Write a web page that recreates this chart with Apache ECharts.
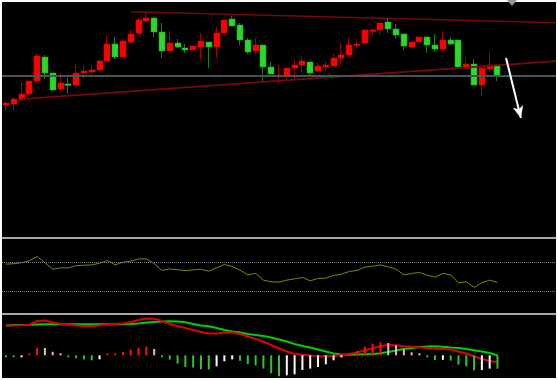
<!DOCTYPE html>
<html><head><meta charset="utf-8">
<script src="https://cdn.jsdelivr.net/npm/echarts@6/dist/echarts.min.js"></script>
<style>html,body{margin:0;padding:0;background:#fff;}#c{width:558px;height:380px;}</style>
</head><body><div id="c"></div>
<script>
// ---- price candles (arbitrary price units) ----
const opens  = [95,96,100,106,119,143,127,111,116,115,127,128,130,139,156,143,158,167,179,182,168,149,157,152,150,153,158,153,167,181,175,160,149,155,133,124,124,132,135,138,129,133,134,142,145,155,157,169,170,178,171,166,153,158,163,155,151,160,160,132,136,115,131,135];
const closes = [97,101,106,119,144,127,110,117,115,127,129,130,139,156,143,159,166,180,182,168,149,157,153,150,154,159,153,167,180,174,160,148,155,133,126,125,132,135,139,127,134,135,142,145,155,156,170,170,177,171,165,154,158,163,155,151,160,156,133,136,115,132,135,124];
const lows   = [89,90,99,105,119,121,109,108,106,112,121,124,128,138,141,143,156,165,178,163,142,148,152,147,150,141,132,142,167,174,155,146,146,119,126,116,121,120,127,125,128,129,134,135,143,151,157,164,165,167,161,150,153,158,147,148,149,155,133,132,114,104,128,119];
const highs  = [99,103,118,119,147,145,127,127,122,136,135,135,140,164,163,160,170,182,187,182,177,169,161,156,154,167,158,173,180,184,177,162,162,155,138,135,132,140,143,138,138,138,146,157,162,159,170,172,177,182,176,167,158,163,163,166,169,163,160,143,141,132,148,135];
// ---- oscillator panel ----
const rsi = [66.9,67.5,68.9,71.4,77.4,68.9,60.0,61.8,61.8,64.8,65.5,65.9,68.2,71.9,65.9,69.6,71.0,74.1,74.1,67.8,58.3,60.4,59.3,58.0,59.1,60.0,57.3,61.8,66.4,63.7,58.7,52.2,54.2,45.0,42.7,42.3,45.0,46.8,48.7,44.1,47.3,47.7,51.4,53.2,56.9,58.3,62.8,64.1,65.9,63.2,60.0,52.2,54.2,55.5,51.8,49.1,54.2,52.2,41.3,42.7,35.1,41.3,45.0,41.9];
const rsiLevels = [70,30];
// ---- MACD panel ----
const macdLine = [29.5,29.8,30.1,30.6,34.3,34.8,32.8,31.5,30.6,29.8,29.3,29.3,29.8,30.8,31.3,31.8,33.3,35.3,36.8,36.6,34.3,31.3,29.3,27.3,25.3,23.3,21.8,21.8,22.8,22.8,21.3,18.8,16.3,13.8,10.3,6.8,3.8,1.3,0.6,-0.2,-0.7,-1.0,-0.7,0.3,1.3,2.8,5.0,6.8,9.3,10.3,10.0,9.0,8.6,8.0,7.3,6.6,6.3,5.8,3.8,1.8,-1.0,-3.7,-5.7,-6.7];
const signalLine = [29.8,30.3,30.3,30.5,30.8,31.0,31.0,31.0,31.0,31.0,31.0,31.0,31.0,31.0,31.0,31.0,31.3,31.8,32.8,33.3,33.8,34.0,33.8,33.0,31.3,29.8,29.0,27.3,25.3,23.8,22.8,21.3,20.3,19.3,17.8,15.8,13.8,11.3,9.3,7.8,5.8,3.8,1.8,0.8,0.5,0.8,1.0,1.0,2.0,3.3,4.8,6.3,7.3,8.3,8.8,9.0,8.5,7.8,7.3,6.3,5.0,3.8,2.3,0.0];
const histogram = [-0.4,-0.6,-0.4,2,7.6,7.3,3.5,1,-2,-3,-4,-5,-4,1.2,1.6,3.5,5.5,7.6,8.7,6.3,-0.5,-4.3,-8.3,-11.7,-12.3,-14,-14.2,-11,-6,-4,-5.5,-8.7,-10,-13.3,-18,-21,-20,-19,-14.7,-13.3,-11.7,-9,-5,-1.5,1.5,4.3,8.7,11.7,13,12.3,10,5.7,3,1.7,-2,-4.7,-4.5,-5.3,-9.3,-11,-15,-14.7,-13.3,-13.4];
// ---- drawings on the price panel: [slot index, price] ----
const upperTrend = [[16.0,188.3],[70.5,177.3]];
const lowerTrend = [[1.9,100.9],[70.5,138.9]];
const priceLevel = 124;
const arrowLine = [[64.1,142],[66.0,82]];
const slotCount = 71;

const idx = opens.map((_, i) => i);
const candleData = idx.map(i => [i, opens[i], closes[i], lows[i], highs[i]]);
const rsiData = idx.map(i => [i, rsi[i]]);
const macdData = idx.map(i => [i, macdLine[i]]);
const sigData = idx.map(i => [i, signalLine[i]]);
const histData = idx.map(i => [i, histogram[i]]);

function histColor(i) {
  const v = histogram[i], p = i > 0 ? histogram[i - 1] : 0;
  if (v >= 0) return v >= p ? '#ff1010' : '#f4b3c0';
  return v < p ? '#2ec42e' : '#ffffff';
}

const xCommon = {type: 'value', min: -0.5, max: slotCount - 0.5, show: false};
const chart = echarts.init(document.getElementById('c'), null, {renderer: 'canvas'});
chart.setOption({
  animation: false,
  backgroundColor: '#ffffff',
  graphic: [
    {type: 'rect', z: -10, shape: {x: 2, y: 2, width: 554, height: 376}, style: {fill: '#000000'}},
    {type: 'rect', z: 10, shape: {x: 2, y: 237, width: 554, height: 2}, style: {fill: '#a8a8a8'}},
    {type: 'rect', z: 10, shape: {x: 2, y: 313, width: 554, height: 2}, style: {fill: '#a8a8a8'}},
    {type: 'polygon', z: 10, shape: {points: [[507, 0], [517, 0], [512, 6]]}, style: {fill: '#8d9aa6'}}
  ],
  grid: [
    {left: 2, right: 2, top: 2, height: 235},
    {left: 2, right: 2, top: 240, height: 73},
    {left: 2, right: 2, top: 316, height: 61}
  ],
  xAxis: [
    Object.assign({gridIndex: 0}, xCommon),
    Object.assign({gridIndex: 1}, xCommon),
    Object.assign({gridIndex: 2}, xCommon)
  ],
  yAxis: [
    {gridIndex: 0, type: 'value', min: -37, max: 198, show: false},
    {gridIndex: 1, type: 'value', min: 0, max: 100, show: false},
    {gridIndex: 2, type: 'value', min: -21.7, max: 39.3, show: false}
  ],
  series: [
    {
      type: 'custom', xAxisIndex: 0, yAxisIndex: 0, data: candleData, z: 3,
      renderItem: function (params, api) {
        const x = api.value(0), o = api.value(1), c = api.value(2), l = api.value(3), h = api.value(4);
        const up = c >= o;
        const pt = api.coord([x, Math.max(o, c)]), pb = api.coord([x, Math.min(o, c)]);
        const pl = api.coord([x, l]), ph = api.coord([x, h]);
        const left = Math.round(pt[0] - 3);
        const bh = Math.max(1.5, pb[1] - pt[1]);
        return {type: 'group', children: [
          {type: 'line', shape: {x1: left + 2.5, y1: ph[1], x2: left + 2.5, y2: pl[1]},
           style: {stroke: up ? '#a00000' : '#1a7f1a', lineWidth: 1}},
          {type: 'rect', shape: {x: left, y: pt[1], width: 6, height: bh},
           style: {fill: up ? '#ff0000' : '#2cd82c', stroke: up ? '#e00000' : '#1fa81f', lineWidth: 0.6}}
        ]};
      },
      markLine: {
        silent: true, symbol: ['none', 'none'], label: {show: false}, animation: false,
        data: [
          [{coord: upperTrend[0], lineStyle: {color: '#7a0808', width: 1.6, type: 'solid'}}, {coord: upperTrend[1]}],
          [{coord: lowerTrend[0], lineStyle: {color: '#7a0808', width: 1.6, type: 'solid'}}, {coord: lowerTrend[1]}],
          {yAxis: priceLevel, lineStyle: {color: '#46525d', width: 2, type: 'solid'}},
          [{coord: arrowLine[0], symbol: 'none', lineStyle: {color: '#ffffff', width: 2, type: 'solid'}},
           {coord: arrowLine[1], symbol: 'arrow', symbolSize: [8, 12]}]
        ]
      }
    },
    {
      type: 'line', xAxisIndex: 1, yAxisIndex: 1, data: rsiData, symbol: 'none',
      lineStyle: {color: '#858500', width: 1},
      markLine: {
        silent: true, symbol: ['none', 'none'], label: {show: false},
        lineStyle: {color: '#7c7c7c', width: 1, type: 'dotted'},
        data: rsiLevels.map(v => ({yAxis: v}))
      }
    },
    {
      type: 'line', xAxisIndex: 2, yAxisIndex: 2, data: sigData, symbol: 'none', z: 2,
      lineStyle: {color: '#00d000', width: 2}
    },
    {
      type: 'line', xAxisIndex: 2, yAxisIndex: 2, data: macdData, symbol: 'none', z: 2,
      lineStyle: {color: '#dd0000', width: 2}
    },
    {
      type: 'bar', xAxisIndex: 2, yAxisIndex: 2, data: histData, barWidth: 2, barMinHeight: 2, z: 4,
      itemStyle: {color: p => histColor(p.dataIndex)}
    }
  ]
});
</script>
</body></html>
